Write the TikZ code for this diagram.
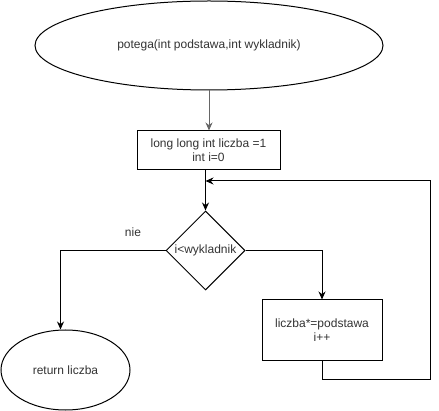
\documentclass[tikz,border=0pt]{standalone}
\usepackage{fontspec}
\setmainfont{Liberation Sans}
\usetikzlibrary{shapes.geometric,arrows.meta}
\begin{document}
\begin{tikzpicture}[x=1pt,y=-1pt,line width=1pt,
    font=\fontsize{12}{14}\selectfont,
    every node/.style={text=black!80},
    startEnd/.style={draw=black,ellipse,inner sep=0pt},
    procBox/.style={draw=black,rectangle,inner sep=0pt,align=center},
    decision/.style={draw=black,diamond,inner sep=0pt,minimum width=79pt,minimum height=79pt},
    arr/.style={-{Stealth[length=8pt,width=7pt]}}]
  \useasboundingbox (0,0) rectangle (439,411);

  \node[startEnd,minimum width=348pt,minimum height=89pt] (start) at (209,45.5)
    {potega(int podstawa,int wykladnik)};
  \node[procBox,minimum width=143pt,minimum height=39pt] (init) at (208.5,150.5)
    {long long int liczba =1\\int i=0};
  \node[decision,label=center:{i<wykladnik}] (cond) at (205.5,250.5) {};
  \node[procBox,minimum width=120pt,minimum height=61pt] (body) at (322,330.5)
    {liczba*=podstawa\\i++};
  \node[startEnd,minimum width=129pt,minimum height=80pt] (ret) at (65.5,370)
    {return liczba};
  \node (nie) at (133,232) {nie};

  \coordinate (join) at (205.5,181);
  \coordinate (back) at (430,380);

  \draw[arr,black!60] (start.south) -- (init.north -| start.south);
  \draw[arr] (init.south -| cond.north) -- (cond.north);
  \draw[arr] (cond.west) -| ([xshift=-5pt]ret.north);
  \draw[arr] (cond.east) -| (body.north);
  \draw[arr] (body.south) |- (back) |- (join);
\end{tikzpicture}
\end{document}
